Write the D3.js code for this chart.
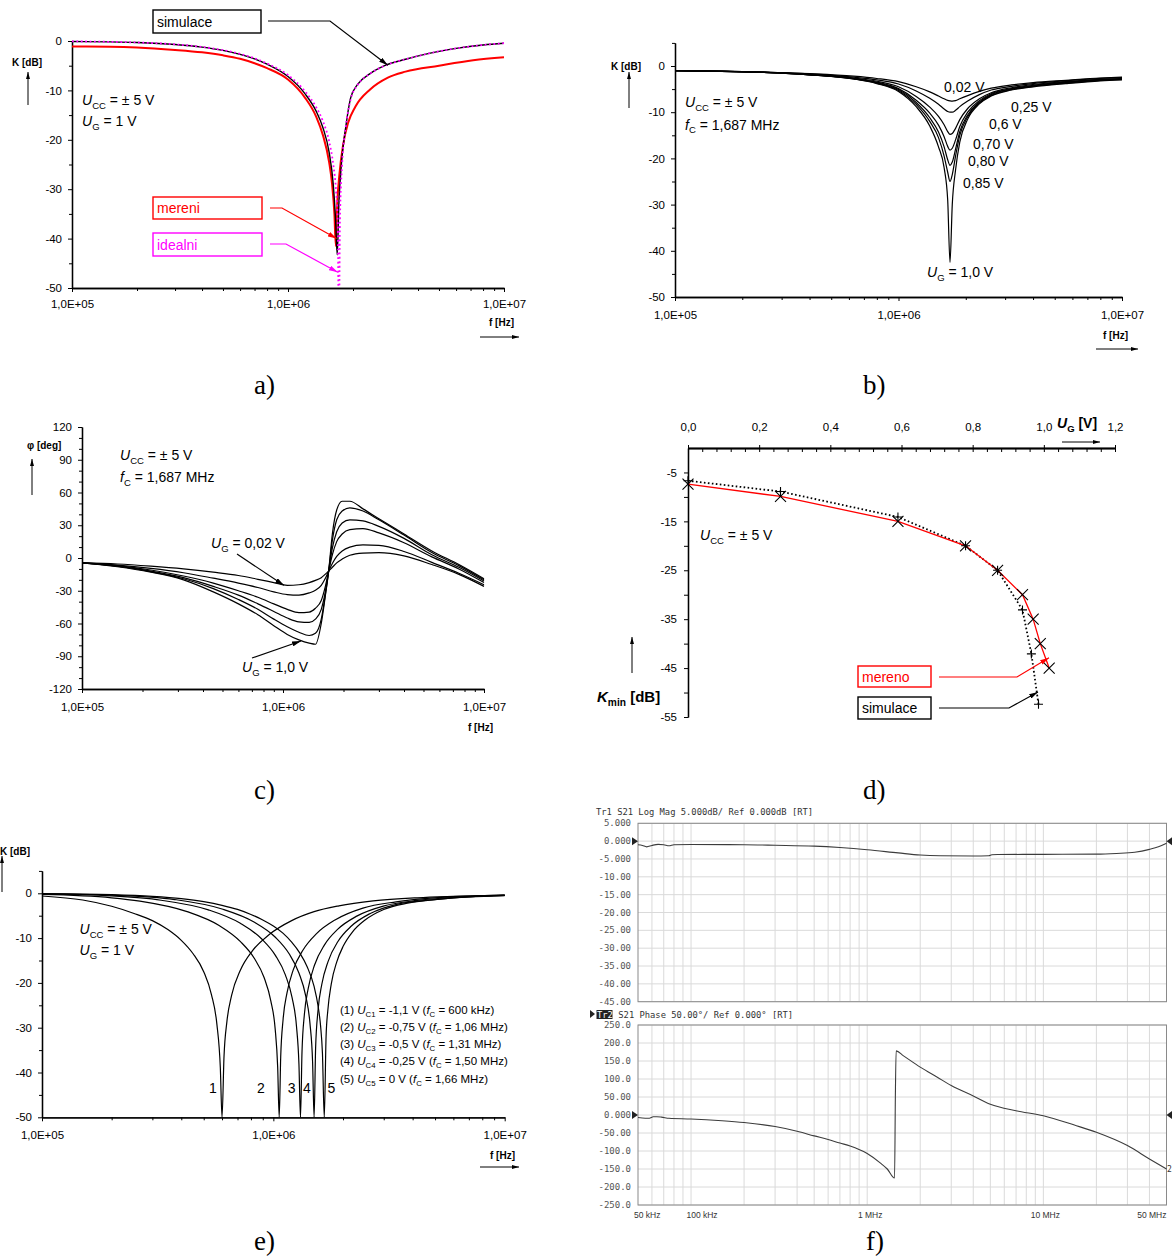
<!DOCTYPE html>
<html>
<head>
<meta charset="utf-8">
<title>Notch filter – frequency responses</title>
<script src="https://cdn.jsdelivr.net/npm/d3@7/dist/d3.min.js"></script>
<style>
  html,body{margin:0;padding:0;background:#fff;}
  svg{display:block;}
</style>
</head>
<body>
<svg id="fig" width="1172" height="1256"></svg>
<script>
// ================= data =================
// shared log-frequency axis ticks
const DECADES = [1e5, 1e6, 1e7];
const DECADE_LABELS = ["1,0E+05", "1,0E+06", "1,0E+07"];
const MINOR_F = [2e5,3e5,4e5,5e5,6e5,7e5,8e5,9e5,2e6,3e6,4e6,5e6,6e6,7e6,8e6,9e6];

// (a) K(f) at UG = 1 V : simulation, measurement, ideal
const A_SIM_F = [1e5,1.5e5,2e5,3e5,4e5,5e5,6e5,7e5,8e5,1e6,1.2e6,1.35e6,1.45e6,1.55e6,1.62e6,1.66e6,1.69e6,1.72e6,1.77e6,1.85e6,1.95e6,2.1e6,2.4e6,2.8e6,3.5e6,4.5e6,6e6,8e6,1e7];
const A_SIM_K = [-0.1,-0.18,-0.31,-0.7,-1.23,-1.9,-2.7,-3.6,-4.7,-7.2,-10.7,-14.2,-17.5,-22.5,-29,-36,-43.3,-33,-24.5,-17.5,-11.5,-8.8,-6.6,-5.0,-3.7,-2.5,-1.5,-0.8,-0.45];
const A_MEAS_F = [1e5,1.5e5,2e5,3e5,4e5,5e5,6e5,7e5,8e5,1e6,1.2e6,1.35e6,1.45e6,1.55e6,1.6e6,1.64e6,1.665e6,1.69e6,1.73e6,1.8e6,1.9e6,2.05e6,2.4e6,2.9e6,3.5e6,5e6,7.2e6,1e7];
const A_MEAS_K = [-1.1,-1.15,-1.3,-1.8,-2.3,-2.9,-3.6,-4.5,-5.5,-7.8,-11.5,-15.3,-19,-24.5,-29,-35,-41.5,-33,-27,-21,-16.5,-13.3,-9.8,-7.4,-6.2,-5.0,-3.9,-3.3];
const A_IDEAL_F = [1e5,2e5,3e5,4e5,5e5,6e5,7e5,8e5,1e6,1.2e6,1.35e6,1.45e6,1.55e6,1.62e6,1.67e6,1.7e6,1.72e6,1.74e6,1.78e6,1.85e6,1.95e6,2.1e6,2.4e6,2.8e6,3.5e6,4.5e6,6e6,8e6,1e7];
const A_IDEAL_K = [-0.08,-0.3,-0.68,-1.2,-1.85,-2.6,-3.5,-4.55,-6.9,-10.2,-13.4,-16.2,-20.3,-25,-30.5,-37,-60,-36,-25,-17.5,-11.8,-8.9,-6.6,-5.0,-3.7,-2.5,-1.5,-0.8,-0.45];

// (b) K(f) for several UG, fC = 1,687 MHz
const B_FREQ = [1e5,1.6e5,2.5e5,4e5,6.3e5,8e5,1e6,1.2e6,1.38e6,1.51e6,1.6e6,1.66e6,1.7e6,1.74e6,1.8e6,1.88e6,2.04e6,2.3e6,2.6e6,3.2e6,4e6,5.6e6,8e6,1e7];
const B_K_002 = [-1.0,-1.1,-1.3,-1.65,-2.2,-2.7,-3.4,-4.5,-5.6,-6.5,-7.1,-7.45,-7.55,-7.6,-7.5,-7.1,-6.4,-5.5,-4.8,-4.1,-3.6,-3.1,-2.6,-2.4];
const B_K_025 = [-1.0,-1.1,-1.3,-1.7,-2.4,-3.0,-3.9,-5.4,-7.0,-8.3,-9.3,-9.85,-10.0,-10.0,-9.6,-8.8,-7.6,-6.2,-5.2,-4.4,-3.8,-3.2,-2.7,-2.5];
const B_K_060 = [-1.0,-1.15,-1.35,-1.8,-2.6,-3.3,-4.5,-6.6,-8.9,-10.9,-12.7,-14.2,-14.8,-14.6,-13.5,-11.6,-9.2,-7.1,-5.8,-4.7,-4.0,-3.4,-2.9,-2.7];
const B_K_070 = [-1.0,-1.15,-1.4,-1.85,-2.7,-3.5,-4.9,-7.4,-10.2,-12.8,-15.3,-17.4,-18.2,-17.8,-16,-13.1,-10,-7.5,-6.0,-4.9,-4.2,-3.5,-2.95,-2.8];
const B_K_080 = [-1.0,-1.15,-1.4,-1.9,-2.75,-3.6,-5.1,-7.9,-11.2,-14.3,-17.5,-20.3,-21.5,-20.8,-18,-14.2,-10.6,-7.8,-6.2,-5.0,-4.3,-3.6,-3.0,-2.85];
const B_K_085 = [-1.0,-1.15,-1.4,-1.9,-2.8,-3.7,-5.3,-8.3,-12,-15.5,-19.5,-23,-25,-23.5,-19.5,-15,-11,-8,-6.4,-5.1,-4.4,-3.7,-3.1,-2.9];
const B_K_100 = [-1.0,-1.15,-1.4,-1.9,-2.8,-3.8,-5.5,-8.8,-13,-17.5,-22,-29,-42.5,-30,-22.5,-16.5,-11.5,-8.2,-6.5,-5.2,-4.5,-3.8,-3.2,-3.0];
const B_LABELS = ["0,02 V","0,25 V","0,6 V","0,70 V","0,80 V","0,85 V"];

// (c) phase φ(f) for several UG
const C_FREQ = [1e5,1.5e5,2.2e5,3.2e5,4.5e5,6e5,7.5e5,9e5,1.05e6,1.2e6,1.35e6,1.45e6,1.55e6,1.62e6,1.687e6,1.76e6,1.85e6,1.97e6,2.15e6,2.5e6,3e6,4e6,5.5e6,7.5e6,1e7];
const C_PHI_002 = [-4.5,-5.5,-7.5,-10,-13,-16,-19.5,-22.5,-25,-24.5,-22.5,-20.5,-18,-15,-12,-8.5,-4.5,-1,2.5,4.5,5,2,-6,-15,-26];
const C_PHI_025 = [-4.5,-6.5,-9.5,-13.5,-18.5,-23,-27,-31,-33.5,-34,-32,-29.5,-25,-19,-12,-5,1.5,6.5,10,12,11.5,6,-4,-14,-24.5];
const C_PHI_060 = [-4.5,-7,-11,-16.5,-23,-30,-36,-42,-47,-50,-49.5,-46,-39,-27,-12,3,15,22,26,27,23,14,1,-10,-22.5];
const C_PHI_070 = [-4.5,-7.5,-12,-18,-26,-34,-42,-49,-55,-58.5,-59,-56,-47,-32,-12,9,24,32,35,34,29,18,3,-8.5,-21];
const C_PHI_080 = [-4.5,-7.5,-12.5,-19,-28,-38,-47,-56,-63,-68,-71,-69,-56,-35,-12,16,35,43,46,43,35,21,5,-7,-20];
const C_PHI_100 = [-4.5,-8,-13,-20,-31,-42,-52,-62,-70,-75,-78,-79,-60,-36,-12,22,44,52,52,45,36,22,6.5,-6,-19];

// (d) minimum attenuation Kmin vs UG
const D_UG_MEAS = [0.0,0.26,0.59,0.78,0.87,0.94,0.97,0.99,1.015];
const D_K_MEAS  = [-7.4,-9.9,-15,-20,-25,-30,-35,-40,-45];
const D_UG_SIM  = [0.0,0.26,0.59,0.78,0.87,0.94,0.965,0.985];
const D_K_SIM   = [-6.7,-8.9,-14.1,-20,-25,-33.1,-42.1,-52.4];
const D_X_TICKS = [0,0.2,0.4,0.6,0.8,1.0,1.2];
const D_X_LABELS = ["0,0","0,2","0,4","0,6","0,8","1,0","1,2"];
const D_Y_TICKS = [-5,-15,-25,-35,-45,-55];
const D_Y_MINOR = [-10,-20,-30,-40,-50];

// (e) K(f) tuned by UC
const E1_F = [1e5,1.5e5,2e5,2.5e5,3e5,3.5e5,4e5,4.5e5,5e5,5.4e5,5.7e5,5.9e5,6e5,6.12e5,6.3e5,6.6e5,7.2e5,8.1e5,9.6e5,1.2e6,1.5e6,1.92e6,2.7e6,4.2e6,6e6,1e7];
const E1_K = [-0.6,-1.5,-2.9,-4.5,-6.1,-8.1,-10.5,-13.5,-17.5,-22.6,-29.2,-39,-50,-36.4,-28.6,-22.8,-17.2,-12.9,-9.2,-6.1,-4.1,-2.8,-1.7,-1.0,-0.7,-0.4];
const E2_F = [1e5,2e5,2.65e5,4.24e5,5.83e5,7.21e5,8.27e5,9.12e5,9.75e5,1.018e6,1.044e6,1.06e6,1.076e6,1.102e6,1.145e6,1.219e6,1.346e6,1.537e6,1.855e6,2.438e6,3.392e6,5.3e6,1e7];
const E2_K = [-0.26,-1.0,-1.75,-4.1,-7.2,-10.8,-14.5,-18.8,-24,-30.2,-38.8,-50,-36.5,-28.1,-22.3,-17.1,-12.6,-9.0,-5.9,-3.3,-1.9,-0.9,-0.4];
const E3_F = [1e5,2e5,3.275e5,5.24e5,7.2e5,8.91e5,1.022e6,1.127e6,1.205e6,1.258e6,1.29e6,1.31e6,1.33e6,1.362e6,1.415e6,1.507e6,1.664e6,1.9e6,2.293e6,3.013e6,4.192e6,6.55e6,1e7];
const E3_K = [-0.15,-0.59,-1.55,-3.7,-6.7,-10.2,-13.9,-18.2,-23.3,-29.5,-38.1,-50,-35.4,-27,-21.2,-16.0,-11.5,-8.0,-5.1,-2.8,-1.6,-0.8,-0.45];
const E4_F = [1e5,2e5,3.75e5,6e5,8.25e5,1.02e6,1.17e6,1.29e6,1.38e6,1.44e6,1.478e6,1.5e6,1.523e6,1.56e6,1.62e6,1.725e6,1.905e6,2.175e6,2.625e6,3.45e6,4.8e6,7.5e6,1e7];
const E4_K = [-0.1,-0.41,-1.4,-3.5,-6.4,-9.8,-13.5,-17.8,-22.9,-29.1,-37.7,-50,-34.5,-26.1,-20.3,-15.2,-10.7,-7.3,-4.5,-2.4,-1.5,-0.7,-0.45];
const E5_F = [1e5,2e5,3e5,4e5,5e5,6e5,7e5,8e5,9e5,1e6,1.1e6,1.2e6,1.3e6,1.4e6,1.5e6,1.56e6,1.6e6,1.63e6,1.66e6,1.69e6,1.72e6,1.78e6,1.88e6,2e6,2.2e6,2.5e6,3e6,3.8e6,5e6,7e6,1e7];
const E5_K = [-0.08,-0.31,-0.69,-1.2,-1.87,-2.68,-3.6,-4.72,-5.94,-7.3,-8.9,-10.9,-13.3,-16.4,-20.8,-25.1,-29.6,-35.7,-50,-32,-26.1,-20.2,-15.3,-11.9,-8.6,-5.9,-3.6,-2.2,-1.4,-0.8,-0.5];
const E_NOTCH_NAMES = ["1","2","3","4","5"];

// (f) network analyser trace: S21 magnitude and phase
const F_MAG_F = [5e4,5.3e4,5.6e4,6e4,6.5e4,7e4,7.5e4,8e4,1e5,2e5,3e5,5e5,7e5,1e6,1.5e6,2e6,2.6e6,4e6,4.9e6,5.1e6,5.5e6,1e7,2e7,2.6e7,3.3e7,4e7,4.5e7,5e7];
const F_MAG_DB = [-1.0,-1.2,-1.6,-1.2,-0.9,-1.0,-1.3,-1.0,-0.95,-1.0,-1.15,-1.4,-1.8,-2.4,-3.3,-3.9,-4.1,-4.15,-4.1,-3.8,-3.75,-3.7,-3.65,-3.45,-3.1,-2.3,-1.6,-0.6];
const F_PH_F = [5e4,5.5e4,5.8e4,6.1e4,6.4e4,6.8e4,7.5e4,1e5,1.5e5,2e5,3e5,4e5,5e5,6e5,7e5,8e5,1e6,1.2e6,1.3e6,1.43e6,1.445e6,1.46e6,1.6e6,2e6,2.5e6,3e6,4e6,5e6,7e6,1e7,1.5e7,2e7,3e7,4e7,5e7];
const F_PH_DEG = [-7,-9,-9,-5,-5,-6,-9,-11,-16,-21,-32,-45,-58,-68,-78,-86,-107,-135,-150,-175,50,178,165,133,105,82,53,30,12,-2,-28,-48,-85,-122,-150];
const F_GRID = [6e4,7e4,8e4,9e4,1e5,2e5,3e5,4e5,5e5,6e5,7e5,8e5,9e5,1e6,2e6,3e6,4e6,5e6,6e6,7e6,8e6,9e6,1e7,2e7,3e7,4e7];
const F_MAG_TICKS = [5,0,-5,-10,-15,-20,-25,-30,-35,-40,-45];
const F_MAG_LABELS = ["5.000","0.000","-5.000","-10.00","-15.00","-20.00","-25.00","-30.00","-35.00","-40.00","-45.00"];
const F_PH_TICKS = [250,200,150,100,50,0,-50,-100,-150,-200,-250];
const F_PH_LABELS = ["250.0","200.0","150.0","100.0","50.00","0.000","-50.00","-100.0","-150.0","-200.0","-250.0"];

// ================= drawing =================
const FONT  = '"Liberation Sans", Arial, Helvetica, sans-serif';
const MONO  = '"DejaVu Sans Mono", "Liberation Mono", monospace';
const SERIF = '"Liberation Serif", "Times New Roman", serif';

const svg = d3.select("#fig");
svg.append("rect").attr("width",1172).attr("height",1256).attr("fill","#fff");
const defs = svg.append("defs");

function addMarker(id, color, w, h){
  defs.append("marker").attr("id",id).attr("viewBox",`0 0 ${w} ${h}`)
    .attr("refX",w).attr("refY",h/2).attr("markerWidth",w).attr("markerHeight",h)
    .attr("markerUnits","userSpaceOnUse").attr("orient","auto")
    .append("path").attr("d",`M0,0L${w},${h/2}L0,${h}Z`).attr("fill",color);
}
addMarker("ahK","#000",9,5);
addMarker("ahR","#ff0000",9,5);
addMarker("ahM","#ff00ff",9,5);
addMarker("ahAx","#000",7,4);

function arrow(pts, color, mk, w){
  svg.append("path").attr("d", d3.line()(pts)).attr("fill","none")
    .attr("stroke",color).attr("stroke-width",w||1).attr("marker-end",`url(#${mk})`);
}

// text made of plain / italic / subscript pieces
function rich(x, y, parts, size, opts={}){
  const t = svg.append("text").attr("x",x).attr("y",y).attr("font-size",size)
    .attr("font-family",opts.family||FONT).attr("fill",opts.fill||"#000")
    .attr("text-anchor",opts.anchor||"start").style("white-space","pre");
  if (opts.bold) t.attr("font-weight","bold");
  let shift = 0;
  for (const p of parts){
    const [s, st=""] = Array.isArray(p) ? p : [p];
    const ts = t.append("tspan").text(s);
    const isSub = st.includes("s");
    const want = isSub ? size*0.28 : 0;
    if (want !== shift){ ts.attr("dy", want - shift); shift = want; }
    if (isSub) ts.attr("font-size", size*(opts.sub||0.68));
    if (st.includes("i")) ts.attr("font-style","italic");
  }
  return t;
}

function excelPanel(o){
  const x = d3.scaleLog().domain([1e5,1e7]).range([o.xl,o.xr]);
  const y = d3.scaleLinear().domain(o.yDom).range([o.yt,o.yb]);
  const g = svg.append("g");
  g.append("g").attr("transform",`translate(0,${o.yb})`)
    .call(d3.axisBottom(x).tickValues(MINOR_F).tickFormat("").tickSize(3).tickSizeOuter(0));
  g.append("g").attr("transform",`translate(0,${o.yb})`)
    .call(d3.axisBottom(x).tickValues(DECADES).tickFormat((d,i)=>DECADE_LABELS[i]).tickSize(4).tickSizeOuter(0).tickPadding(o.xPad));
  g.append("g").attr("transform",`translate(${o.xl},0)`)
    .call(d3.axisLeft(y).tickValues(o.yMinor).tickFormat("").tickSize(3).tickSizeOuter(0));
  g.append("g").attr("transform",`translate(${o.xl},0)`)
    .call(d3.axisLeft(y).tickValues(o.yMajor).tickFormat(d=>String(d)).tickSize(4).tickSizeOuter(0).tickPadding(6));
  g.selectAll("path.domain").attr("stroke","#000").attr("stroke-width",1.3);
  g.selectAll(".tick line").attr("stroke","#000").attr("stroke-width",1);
  g.selectAll(".tick text").attr("fill","#000").attr("font-size",11.5).attr("font-family",FONT);
  const cid = "clip-" + o.id;
  defs.append("clipPath").attr("id",cid).append("rect")
    .attr("x",o.xl).attr("y",o.yt-1).attr("width",o.xr-o.xl+1).attr("height",o.yb-o.yt+1);
  const plot = svg.append("g").attr("clip-path",`url(#${cid})`);
  return {x, y, plot};
}

function curve(P, fs, vs, stroke, w, dash){
  const line = d3.line().x(d=>P.x(d[0])).y(d=>P.y(d[1])).curve(d3.curveMonotoneX);
  P.plot.append("path").datum(d3.zip(fs,vs)).attr("d",line).attr("fill","none")
    .attr("stroke",stroke).attr("stroke-width",w).attr("stroke-linejoin","round")
    .attr("stroke-dasharray",dash||null);
}

function boldLabel(x, y, s){
  svg.append("text").attr("x",x).attr("y",y).attr("font-size",10).attr("font-weight","bold")
    .attr("font-family",FONT).text(s);
}
function caption(x, y, s){
  svg.append("text").attr("x",x).attr("y",y).attr("font-size",27).attr("font-family",SERIF).text(s);
}
function legendBox(x, y, w, h, s, color){
  svg.append("rect").attr("x",x).attr("y",y).attr("width",w).attr("height",h)
    .attr("fill","#fff").attr("stroke",color).attr("stroke-width",1.4);
  svg.append("text").attr("x",x+4).attr("y",y+h/2+5).attr("font-size",14)
    .attr("font-family",FONT).attr("fill",color).text(s);
}

// ---------- (a) ----------
const PA = excelPanel({id:"a", xl:72, xr:504, yt:41, yb:288, yDom:[0,-50],
  yMajor:[0,-10,-20,-30,-40,-50], yMinor:[-5,-15,-25,-35,-45], xPad:8});
curve(PA, A_MEAS_F, A_MEAS_K, "#ff0000", 2);
curve(PA, A_SIM_F, A_SIM_K, "#000", 1.4);
curve(PA, A_IDEAL_F, A_IDEAL_K, "#ff00ff", 1.8, "1.8,2.6");
boldLabel(12, 65.5, "K [dB]");
arrow([[28,105],[28,72]], "#000", "ahAx", 1);
rich(82, 105, [["U","i"],["CC","s"],[" = ± 5 V"]], 14);
rich(82, 126, [["U","i"],["G","s"],[" = 1 V"]], 14);
legendBox(153, 10, 108, 23, "simulace", "#000");
arrow([[268,21],[330,21],[PA.x(2.9e6),PA.y(-4.9)]], "#000", "ahK", 1.2);
legendBox(153, 197, 109, 22, "mereni", "#ff0000");
arrow([[270,208],[282,208],[PA.x(1.68e6),PA.y(-40)]], "#ff0000", "ahR", 1.2);
legendBox(153, 233, 109, 23, "idealni", "#ff00ff");
arrow([[270,244],[286,244],[PA.x(1.7e6),PA.y(-46.8)]], "#ff00ff", "ahM", 1.2);
boldLabel(489, 326, "f [Hz]");
arrow([[480,337],[519,337]], "#000", "ahAx", 1);
caption(254, 394, "a)");

// ---------- (b) ----------
const PB = excelPanel({id:"b", xl:675, xr:1122, yt:42.9, yb:297, yDom:[5,-50],
  yMajor:[0,-10,-20,-30,-40,-50], yMinor:[5,-5,-15,-25,-35,-45], xPad:10});
[B_K_002,B_K_025,B_K_060,B_K_070,B_K_080,B_K_085,B_K_100].forEach(k=>curve(PB, B_FREQ, k, "#000", 1.2));
boldLabel(611, 69.5, "K [dB]");
arrow([[629,108],[629,72]], "#000", "ahAx", 1);
rich(685, 107, [["U","i"],["CC","s"],[" = ± 5 V"]], 14);
rich(685, 129.5, [["f","i"],["C","s"],[" = 1,687 MHz"]], 14);
const bLabelPos = [[944,91.5],[1011,111.5],[989,128.5],[973,148.5],[968,165.5],[963,187.5]];
B_LABELS.forEach((s,i)=>rich(bLabelPos[i][0], bLabelPos[i][1], [s], 14));
rich(927, 277, [["U","i"],["G","s"],[" = 1,0 V"]], 14);
boldLabel(1103, 339, "f [Hz]");
arrow([[1096,349],[1138,349]], "#000", "ahAx", 1);
caption(863, 394, "b)");

// ---------- (c) ----------
const PC = excelPanel({id:"c", xl:82, xr:484, yt:427, yb:689, yDom:[120,-120],
  yMajor:[120,90,60,30,0,-30,-60,-90,-120],
  yMinor:[110,100,80,70,50,40,20,10,-10,-20,-40,-50,-70,-80,-100,-110], xPad:10});
[C_PHI_002,C_PHI_025,C_PHI_060,C_PHI_070,C_PHI_080,C_PHI_100].forEach(p=>curve(PC, C_FREQ, p, "#000", 1.2));
boldLabel(27, 448.5, "φ [deg]");
arrow([[32,495],[32,459]], "#000", "ahAx", 1);
rich(120, 460, [["U","i"],["CC","s"],[" = ± 5 V"]], 14);
rich(120, 482, [["f","i"],["C","s"],[" = 1,687 MHz"]], 14);
rich(211, 548, [["U","i"],["G","s"],[" = 0,02 V"]], 14);
arrow([[237,554],[PC.x(1.01e6),PC.y(-25)]], "#000", "ahK", 1.2);
rich(242, 672, [["U","i"],["G","s"],[" = 1,0 V"]], 14);
arrow([[252,658],[PC.x(1.23e6),PC.y(-76)]], "#000", "ahK", 1.2);
boldLabel(468, 730.5, "f [Hz]");
caption(254, 799, "c)");

// ---------- (d) ----------
const dx = d3.scaleLinear().domain([0,1.2]).range([688,1115]);
const dy = d3.scaleLinear().domain([0,-55]).range([448,717]);
{
  const g = svg.append("g");
  const minorX = d3.range(1,30).map(i=>i*0.04).filter(v=>Math.abs(v/0.2-Math.round(v/0.2))>1e-6);
  g.append("g").attr("transform","translate(0,448)")
    .call(d3.axisTop(dx).tickValues(minorX).tickFormat("").tickSize(-4).tickSizeOuter(0));
  g.append("g").attr("transform","translate(0,448)")
    .call(d3.axisTop(dx).tickValues(D_X_TICKS).tickFormat("").tickSize(3).tickSizeOuter(0));
  g.append("g").attr("transform","translate(0,448)")
    .call(d3.axisTop(dx).tickValues(D_X_TICKS).tickFormat((d,i)=>D_X_LABELS[i]).tickSize(-4).tickSizeOuter(0).tickPadding(17));
  g.append("g").attr("transform","translate(688,0)")
    .call(d3.axisLeft(dy).tickValues(D_Y_MINOR).tickFormat("").tickSize(4).tickSizeOuter(0));
  g.append("g").attr("transform","translate(688,0)")
    .call(d3.axisLeft(dy).tickValues(D_Y_TICKS).tickFormat(d=>String(d)).tickSize(4).tickSizeOuter(0).tickPadding(7));
  g.selectAll("path.domain").attr("stroke","#000").attr("stroke-width",1.3);
  g.selectAll(".tick line").attr("stroke","#000");
  g.selectAll(".tick text").attr("fill","#000").attr("font-size",11.5).attr("font-family",FONT);

  const sim = d3.zip(D_UG_SIM, D_K_SIM), meas = d3.zip(D_UG_MEAS, D_K_MEAS);
  const ln = d3.line().x(d=>dx(d[0])).y(d=>dy(d[1]));
  g.append("path").datum(sim).attr("d",ln).attr("fill","none").attr("stroke","#000")
    .attr("stroke-width",1.8).attr("stroke-dasharray","1.6,2.4");
  g.append("path").datum(meas).attr("d",ln).attr("fill","none").attr("stroke","#ff0000").attr("stroke-width",1.3);
  g.selectAll("path.plus").data(sim).join("path").attr("class","plus")
    .attr("d",d=>{const x=dx(d[0]),y=dy(d[1]),r=4.5;return `M${x-r},${y}H${x+r}M${x},${y-r}V${y+r}`;})
    .attr("stroke","#000").attr("stroke-width",1.1);
  g.selectAll("path.cross").data(meas).join("path").attr("class","cross")
    .attr("d",d=>{const x=dx(d[0]),y=dy(d[1]),r=5.5;return `M${x-r},${y-r}L${x+r},${y+r}M${x-r},${y+r}L${x+r},${y-r}`;})
    .attr("stroke","#000").attr("stroke-width",1.1);
}
rich(1057, 428, [["U","i"],["G","s"],[" [V]"]], 14, {bold:true});
arrow([[1062,442],[1100,442]], "#000", "ahAx", 1);
rich(700, 540, [["U","i"],["CC","s"],[" = ± 5 V"]], 14);
rich(597, 702, [["K","i"],["min","s"],[" [dB]"]], 15, {bold:true});
arrow([[632,673],[632,637]], "#000", "ahAx", 1);
legendBox(858, 666, 73, 21, "mereno", "#ff0000");
arrow([[939,677],[1017,677],[dx(1.0145),dy(-42.9)]], "#ff0000", "ahR", 1.2);
legendBox(858, 697, 73, 22, "simulace", "#000");
arrow([[939,708],[1009,708],[dx(0.9836),dy(-49.9)]], "#000", "ahK", 1.2);
caption(863, 799, "d)");

// ---------- (e) ----------
const PE = excelPanel({id:"e", xl:42, xr:504.7, yt:870.9, yb:1117.3, yDom:[5,-50],
  yMajor:[0,-10,-20,-30,-40,-50], yMinor:[5,-5,-15,-25,-35,-45], xPad:10});
[[E1_F,E1_K],[E2_F,E2_K],[E3_F,E3_K],[E4_F,E4_K],[E5_F,E5_K]].forEach(([f,k])=>curve(PE, f, k, "#000", 1.2));
boldLabel(0, 854.5, "K [dB]");
arrow([[2,892],[2,856]], "#000", "ahAx", 1);
rich(79.5, 934, [["U","i"],["CC","s"],[" = ± 5 V"]], 14);
rich(79.5, 955, [["U","i"],["G","s"],[" = 1 V"]], 14);
const eLegend = [
  [["(1) "],["U","i"],["C1","s"],[" = -1,1 V ("],["f","i"],["C","s"],[" = 600 kHz)"]],
  [["(2) "],["U","i"],["C2","s"],[" = -0,75 V ("],["f","i"],["C","s"],[" = 1,06 MHz)"]],
  [["(3) "],["U","i"],["C3","s"],[" = -0,5 V ("],["f","i"],["C","s"],[" = 1,31 MHz)"]],
  [["(4) "],["U","i"],["C4","s"],[" = -0,25 V ("],["f","i"],["C","s"],[" = 1,50 MHz)"]],
  [["(5) "],["U","i"],["C5","s"],[" = 0 V ("],["f","i"],["C","s"],[" = 1,66 MHz)"]]
];
const eLegendY = [1014, 1031, 1048, 1065, 1082.5];
eLegend.forEach((p,i)=>rich(340, eLegendY[i], p, 11.5));
const eNumX = [213, 261, 291.6, 307, 331.5];
E_NOTCH_NAMES.forEach((s,i)=>svg.append("text").attr("x",eNumX[i]).attr("y",1093)
  .attr("text-anchor","middle").attr("font-size",14).attr("font-family",FONT).text(s));
boldLabel(490, 1158.5, "f [Hz]");
arrow([[480,1167],[519,1167]], "#000", "ahAx", 1);
caption(254, 1250, "e)");

// ---------- (f) ----------
const fx = d3.scaleLog().domain([5e4,5e7]).range([638,1166.5]);
const fyM = d3.scaleLinear().domain([5,-45]).range([823.3,1001.7]);
const fyP = d3.scaleLinear().domain([250,-250]).range([1025,1205]);
function vnaPanel(yS, ticks, labels, fs, vs){
  const g = svg.append("g");
  const [y0, y1] = yS.range();
  const [x0, x1] = fx.range();
  g.append("g").selectAll("line").data(F_GRID).join("line")
    .attr("x1",d=>fx(d)).attr("x2",d=>fx(d)).attr("y1",y0).attr("y2",y1)
    .attr("stroke","#dadada").attr("stroke-width",1);
  g.append("g").selectAll("line").data(ticks).join("line")
    .attr("x1",x0).attr("x2",x1).attr("y1",d=>yS(d)).attr("y2",d=>yS(d))
    .attr("stroke","#dadada").attr("stroke-width",1);
  g.append("rect").attr("x",x0).attr("y",y0).attr("width",x1-x0).attr("height",y1-y0)
    .attr("fill","none").attr("stroke","#8a8a8a").attr("stroke-width",1);
  g.append("g").selectAll("text").data(ticks).join("text")
    .attr("x",631).attr("y",d=>yS(d)+3).attr("text-anchor","end")
    .attr("font-size",9).attr("font-family",MONO).attr("fill","#555")
    .text((d,i)=>labels[i]);
  const ln = d3.line().x(d=>fx(d[0])).y(d=>yS(d[1])).curve(d3.curveMonotoneX);
  g.append("path").datum(d3.zip(fs,vs)).attr("d",ln).attr("fill","none")
    .attr("stroke","#3c3c3c").attr("stroke-width",1.1);
  // reference level markers
  const yr = yS(0);
  g.append("path").attr("d",`M${x0-6},${yr-4}L${x0},${yr}L${x0-6},${yr+4}Z`).attr("fill","#222");
  g.append("path").attr("d",`M1172,${yr-4}L${x1},${yr}L1172,${yr+4}Z`).attr("fill","#222");
  return g;
}
vnaPanel(fyM, F_MAG_TICKS, F_MAG_LABELS, F_MAG_F, F_MAG_DB);
vnaPanel(fyP, F_PH_TICKS, F_PH_LABELS, F_PH_F, F_PH_DEG);
svg.append("text").attr("x",596).attr("y",815).attr("font-size",8.8).attr("font-family",MONO)
  .attr("fill","#333").style("white-space","pre").text("Tr1 S21 Log Mag 5.000dB/ Ref 0.000dB [RT]");
svg.append("path").attr("d","M590,1010L595,1014L590,1018Z").attr("fill","#222");
svg.append("rect").attr("x",596.5).attr("y",1010).attr("width",16).attr("height",9).attr("fill","#222");
svg.append("text").attr("x",597).attr("y",1017.8).attr("font-size",8.8).attr("font-family",MONO)
  .attr("fill","#fff").text("Tr2");
svg.append("text").attr("x",613).attr("y",1017.8).attr("font-size",8.8).attr("font-family",MONO)
  .attr("fill","#333").style("white-space","pre").text(" S21 Phase 50.00°/ Ref 0.000° [RT]");
svg.append("text").attr("x",1167).attr("y",fyP(-150)+3).attr("font-size",8).attr("font-family",MONO)
  .attr("fill","#333").text("2");
const fLabels = [[5e4,"50 kHz","start",-4],[1e5,"100 kHz","middle",11],[1e6,"1 MHz","middle",3],[1e7,"10 MHz","middle",2],[5e7,"50 MHz","end",0]];
fLabels.forEach(([f,s,a,off])=>svg.append("text").attr("x",fx(f)+off).attr("y",1218)
  .attr("text-anchor",a).attr("font-size",8.5).attr("font-family",FONT).attr("fill","#333").text(s));
caption(866, 1250, "f)");
</script>
</body>
</html>
